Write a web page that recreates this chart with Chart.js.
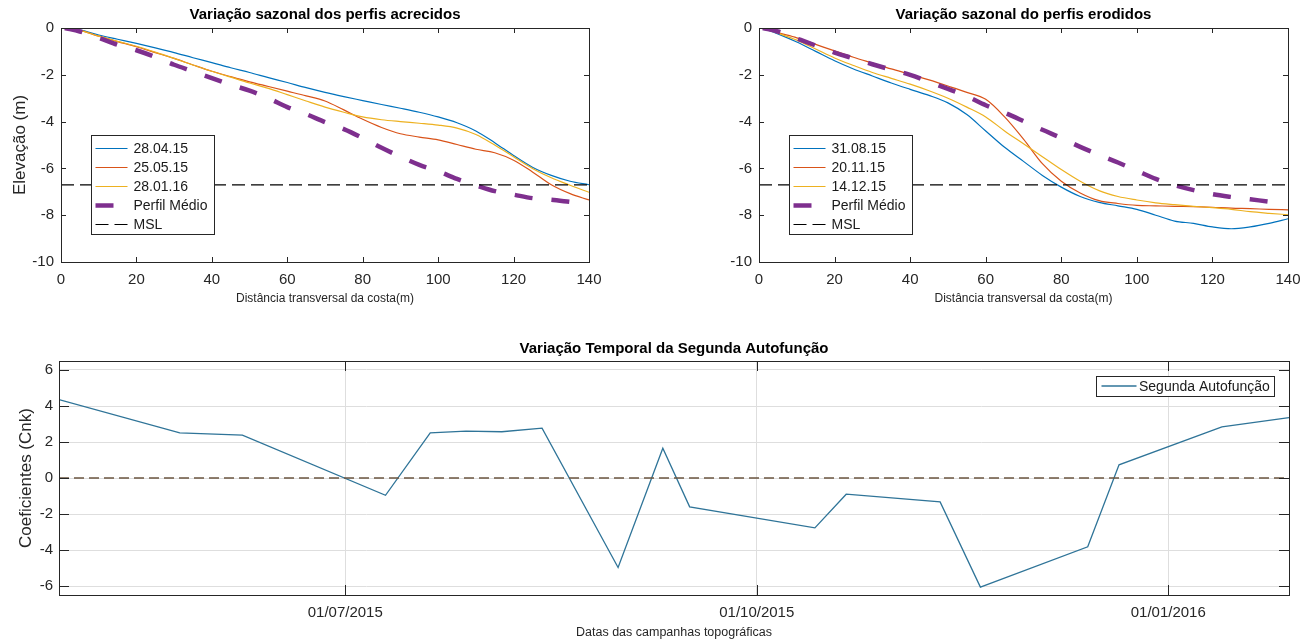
<!DOCTYPE html>
<html>
<head>
<meta charset="utf-8">
<script src="https://cdn.jsdelivr.net/npm/chart.js@4.4.1/dist/chart.umd.min.js"></script>
<style>
  html, body { margin: 0; padding: 0; background: #ffffff; }
  body { width: 1310px; height: 643px; position: relative; overflow: hidden; }
  canvas { position: absolute; }
</style>
</head>
<body>
<canvas id="acrecidos" width="620" height="310" style="left:0px;top:0px;width:620px;height:310px"></canvas>
<canvas id="erodidos" width="610" height="310" style="left:700px;top:0px;width:610px;height:310px"></canvas>
<canvas id="autofuncao" width="1310" height="323" style="left:0px;top:320px;width:1310px;height:323px"></canvas>
<script>
// ---- Perfis de praia: distância transversal (m) e elevação (m) ----
const distancia = [1, 5, 10, 15, 20, 25, 30, 35, 40, 45, 50, 55, 60, 65, 70, 75, 80, 85, 90, 95, 100, 105, 110, 115, 120, 125, 130, 135, 140];

// Perfis acrecidos
const acr280415 = [0, -0.08, -0.3, -0.48, -0.66, -0.85, -1.05, -1.27, -1.48, -1.7, -1.9, -2.12, -2.33, -2.55, -2.75, -2.93, -3.1, -3.27, -3.43, -3.6, -3.8, -4.05, -4.4, -4.9, -5.45, -5.95, -6.3, -6.55, -6.7];
const acr250515 = [0, -0.1, -0.35, -0.58, -0.8, -1.05, -1.3, -1.58, -1.85, -2.08, -2.3, -2.5, -2.7, -2.9, -3.12, -3.5, -3.9, -4.25, -4.52, -4.66, -4.78, -4.98, -5.18, -5.33, -5.65, -6.15, -6.7, -7.08, -7.35];
const acr280116 = [0, -0.1, -0.35, -0.57, -0.78, -1.03, -1.3, -1.58, -1.85, -2.1, -2.35, -2.58, -2.85, -3.12, -3.38, -3.6, -3.8, -3.92, -4.0, -4.07, -4.15, -4.28, -4.55, -5.0, -5.5, -6.0, -6.4, -6.72, -7.02];
const acrMedio  = [0, -0.15, -0.42, -0.72, -0.95, -1.24, -1.57, -1.85, -2.14, -2.42, -2.68, -3.0, -3.38, -3.68, -4.02, -4.32, -4.7, -5.12, -5.5, -5.85, -6.12, -6.45, -6.72, -6.97, -7.12, -7.27, -7.34, -7.43, null];

// Perfis erodidos
const ero310815 = [0, -0.25, -0.6, -1.0, -1.4, -1.75, -2.05, -2.35, -2.62, -2.88, -3.2, -3.7, -4.4, -5.1, -5.7, -6.3, -6.8, -7.2, -7.45, -7.6, -7.75, -8.0, -8.25, -8.35, -8.5, -8.58, -8.5, -8.35, -8.15];
const ero201115 = [0, -0.2, -0.42, -0.7, -0.98, -1.25, -1.5, -1.75, -1.98, -2.22, -2.48, -2.75, -3.05, -3.8, -4.75, -5.8, -6.55, -7.05, -7.38, -7.5, -7.58, -7.6, -7.62, -7.63, -7.66, -7.7, -7.72, -7.75, -7.77];
const ero141215 = [0, -0.22, -0.52, -0.9, -1.28, -1.6, -1.9, -2.15, -2.4, -2.68, -3.0, -3.38, -3.8, -4.4, -4.95, -5.5, -6.05, -6.55, -6.95, -7.2, -7.35, -7.47, -7.55, -7.62, -7.68, -7.75, -7.85, -7.92, -7.98];
const eroMedio  = [0, -0.15, -0.45, -0.75, -1.05, -1.3, -1.55, -1.78, -2.0, -2.3, -2.6, -2.92, -3.3, -3.62, -3.98, -4.35, -4.7, -5.08, -5.42, -5.75, -6.1, -6.45, -6.72, -6.93, -7.1, -7.22, -7.32, -7.42, null];

const nivelMSL = -6.7;
const xTicksPerfil = [0, 20, 40, 60, 80, 100, 120, 140];
const yTicksPerfil = [-10, -8, -6, -4, -2, 0];

// ---- Segunda autofunção: datas das campanhas e coeficientes ----
const datasCampanhas = ['2015-04-28', '2015-05-25', '2015-06-08', '2015-07-10', '2015-07-20', '2015-07-28', '2015-08-05', '2015-08-14', '2015-08-31', '2015-09-10', '2015-09-16', '2015-10-14', '2015-10-21', '2015-11-11', '2015-11-20', '2015-12-14', '2015-12-21', '2016-01-13', '2016-01-28'];
const segundaAutofuncao = [4.35, 2.51, 2.38, -0.96, 2.51, 2.6, 2.57, 2.77, -4.97, 1.65, -1.6, -2.77, -0.9, -1.33, -6.06, -3.82, 0.73, 2.84, 3.36];
const linhaZero = 0;
const datasTicks = ['2015-07-01', '2015-10-01', '2016-01-01'];
const yTicksCoef = [-6, -4, -2, 0, 2, 4, 6];

// ---- helpers ----
const FONTE = '"Liberation Sans", Arial, Helvetica, sans-serif';
Chart.defaults.font.family = FONTE;
Chart.defaults.color = '#262626';

const dia = s => Date.UTC(+s.slice(0, 4), +s.slice(5, 7) - 1, +s.slice(8, 10)) / 86400000;
const fmtData = v => {
  const d = new Date(Math.round(v) * 86400000);
  const p = n => String(n).padStart(2, '0');
  return p(d.getUTCDate()) + '/' + p(d.getUTCMonth() + 1) + '/' + d.getUTCFullYear();
};
const pontos = (xs, ys) => xs.map((x, i) => ({ x: x, y: ys[i] }));
const fixarTicks = valores => scale => { scale.ticks = valores.map(v => ({ value: v })); };

// Box around the plot area with inward tick marks on all four sides
const caixaEixos = {
  id: 'caixaEixos',
  afterDatasetsDraw(chart, args, o) {
    const { ctx, chartArea: a, scales: { x, y } } = chart;
    const L = o.tickLen;
    ctx.save();
    ctx.strokeStyle = '#262626';
    ctx.lineWidth = 1;
    ctx.beginPath();
    x.ticks.forEach(t => {
      const px = Math.round(x.getPixelForValue(t.value)) + 0.5;
      ctx.moveTo(px, a.bottom); ctx.lineTo(px, a.bottom - L);
      ctx.moveTo(px, a.top); ctx.lineTo(px, a.top + L);
    });
    y.ticks.forEach(t => {
      const py = Math.round(y.getPixelForValue(t.value)) + 0.5;
      ctx.moveTo(a.left, py); ctx.lineTo(a.left + L, py);
      ctx.moveTo(a.right, py); ctx.lineTo(a.right - L, py);
    });
    ctx.stroke();
    ctx.strokeRect(Math.round(a.left) + 0.5, Math.round(a.top) + 0.5,
                   Math.round(a.right - a.left), Math.round(a.bottom - a.top));
    ctx.restore();
  }
};

// Boxed legend drawn inside the plot area
const legendaCaixa = {
  id: 'legendaCaixa',
  afterDraw(chart, args, o) {
    if (!o || !o.display) return;
    const { ctx, chartArea: a } = chart;
    const sets = chart.data.datasets.filter(d => !d.semLegenda);
    const left = Math.round(a.left + o.dx), top = Math.round(a.top + o.dy);
    const h = Math.round(o.padTop + o.rowHeight * (sets.length - 1) + o.padBottom);
    ctx.save();
    ctx.fillStyle = '#ffffff';
    ctx.fillRect(left, top, o.width, h);
    ctx.strokeStyle = '#262626';
    ctx.lineWidth = 1;
    ctx.strokeRect(left + 0.5, top + 0.5, o.width, h);
    ctx.font = '14px ' + FONTE;
    ctx.textBaseline = 'middle';
    sets.forEach((d, i) => {
      const cy = top + o.padTop + i * o.rowHeight;
      ctx.save();
      ctx.strokeStyle = d.borderColor;
      ctx.lineWidth = d.borderWidth;
      ctx.lineCap = 'butt';
      ctx.setLineDash(d.borderDash || []);
      ctx.beginPath();
      ctx.moveTo(left + o.sampleStart, cy);
      ctx.lineTo(left + o.sampleStart + o.sampleLen, cy);
      ctx.stroke();
      ctx.restore();
      ctx.fillStyle = '#1a1a1a';
      ctx.fillText(d.label, left + o.textStart, cy + 1);
    });
    ctx.restore();
  }
};

function graficoPerfil(id, titulo, rotulos, series, medio, tituloY, padDireita, larguraY) {
  const cores = ['#0072BD', '#D95319', '#EDB120'];
  const datasets = series.map((s, i) => ({
    label: rotulos[i],
    data: pontos(distancia, s),
    borderColor: cores[i],
    borderWidth: 1.2,
    cubicInterpolationMode: 'monotone',
    pointRadius: 0,
    order: 5 - i
  }));
  datasets.push({
    label: 'Perfil Médio',
    data: pontos(distancia, medio),
    borderColor: '#7E2F8E',
    borderWidth: 4.5,
    borderDash: [18, 19],
    borderCapStyle: 'butt',
    cubicInterpolationMode: 'monotone',
    pointRadius: 0,
    order: 2
  });
  datasets.push({
    label: 'MSL',
    data: [{ x: xTicksPerfil[0], y: nivelMSL }, { x: xTicksPerfil[xTicksPerfil.length - 1], y: nivelMSL }],
    borderColor: '#000000',
    borderWidth: 1.2,
    borderDash: [13, 6],
    pointRadius: 0,
    order: 1
  });

  return new Chart(document.getElementById(id), {
    type: 'line',
    data: { datasets },
    options: {
      responsive: false,
      animation: false,
      events: [],
      layout: { padding: { left: 0, top: 0, right: padDireita, bottom: 0 } },
      scales: {
        x: {
          type: 'linear',
          min: xTicksPerfil[0],
          max: xTicksPerfil[xTicksPerfil.length - 1],
          afterBuildTicks: fixarTicks(xTicksPerfil),
          afterFit: s => { s.height = 48; },
          grid: { display: false, drawTicks: false },
          border: { display: false },
          ticks: { padding: 9, font: { size: 15 }, color: '#262626' },
          title: { display: true, text: 'Distância transversal da costa(m)', font: { size: 12 }, color: '#262626', padding: { top: 0, bottom: 4 } }
        },
        y: {
          type: 'linear',
          min: yTicksPerfil[0],
          max: yTicksPerfil[yTicksPerfil.length - 1],
          afterBuildTicks: fixarTicks(yTicksPerfil),
          afterFit: s => { s.width = larguraY; },
          grid: { display: false, drawTicks: false },
          border: { display: false },
          ticks: { padding: 7, font: { size: 15 }, color: '#262626' },
          title: { display: !!tituloY, text: tituloY || '', font: { size: 17 }, color: '#262626', padding: { top: 10, bottom: 0 } }
        }
      },
      plugins: {
        legend: { display: false },
        tooltip: { enabled: false },
        title: {
          display: true,
          text: titulo,
          fullSize: false,
          color: '#000000',
          font: { size: 15, weight: 'bold' },
          padding: { top: 6, bottom: 4 }
        },
        caixaEixos: { tickLen: 5 },
        legendaCaixa: { display: true, dx: 30, dy: 107, width: 123, padTop: 13.5, rowHeight: 19, padBottom: 9.5, sampleStart: 4.5, sampleLen: 32, textStart: 42.5 }
      }
    },
    plugins: [caixaEixos, legendaCaixa]
  });
}

graficoPerfil('acrecidos', 'Variação sazonal dos perfis acrecidos',
  ['28.04.15', '25.05.15', '28.01.16'], [acr280415, acr250515, acr280116], acrMedio,
  'Elevação (m)', 31, 61);

graficoPerfil('erodidos', 'Variação sazonal do perfis erodidos',
  ['31.08.15', '20.11.15', '14.12.15'], [ero310815, ero201115, ero141215], eroMedio,
  null, 22, 59);

// ---- Variação temporal da segunda autofunção ----
const diasCampanhas = datasCampanhas.map(dia);
const diaInicio = diasCampanhas[0];
const diaFim = diasCampanhas[diasCampanhas.length - 1];

new Chart(document.getElementById('autofuncao'), {
  type: 'line',
  data: {
    datasets: [
      {
        label: 'Segunda Autofunção',
        data: pontos(diasCampanhas, segundaAutofuncao),
        borderColor: '#2f7498',
        borderWidth: 1.3,
        tension: 0,
        pointRadius: 0,
        order: 2
      },
      {
        label: 'zero',
        semLegenda: true,
        data: [{ x: diaInicio, y: linhaZero }, { x: diaFim, y: linhaZero }],
        borderColor: '#6b5640',
        borderWidth: 1.3,
        borderDash: [10, 5],
        pointRadius: 0,
        order: 1
      }
    ]
  },
  options: {
    responsive: false,
    animation: false,
    events: [],
    layout: { padding: { left: 0, top: 0, right: 21, bottom: 0 } },
    scales: {
      x: {
        type: 'linear',
        min: diaInicio,
        max: diaFim,
        afterBuildTicks: fixarTicks(datasTicks.map(dia)),
        afterFit: s => { s.height = 48; },
        grid: { display: true, color: '#dedede', lineWidth: 1, drawTicks: false },
        border: { display: false },
        ticks: { padding: 9, font: { size: 15 }, color: '#262626', callback: v => fmtData(v) },
        title: { display: true, text: 'Datas das campanhas topográficas', font: { size: 12.5 }, color: '#262626', padding: { top: 0, bottom: 2.5 } }
      },
      y: {
        type: 'linear',
        min: -6.5,
        max: 6.5,
        afterBuildTicks: fixarTicks(yTicksCoef),
        afterFit: s => { s.width = 59; },
        grid: { display: true, color: '#dedede', lineWidth: 1, drawTicks: false },
        border: { display: false },
        ticks: { padding: 6, font: { size: 15 }, color: '#262626' },
        title: { display: true, text: 'Coeficientes (Cnk)', font: { size: 17 }, color: '#262626', padding: { top: 16.5, bottom: 0 } }
      }
    },
    plugins: {
      legend: { display: false },
      tooltip: { enabled: false },
      title: {
        display: true,
        text: 'Variação Temporal da Segunda Autofunção',
        fullSize: false,
        color: '#000000',
        font: { size: 15, weight: 'bold' },
        padding: { top: 20, bottom: 3 }
      },
      caixaEixos: { tickLen: 10 },
      legendaCaixa: { display: true, dx: 1037, dy: 15, width: 178, padTop: 10, rowHeight: 19, padBottom: 10, sampleStart: 5.5, sampleLen: 35, textStart: 43 }
    }
  },
  plugins: [caixaEixos, legendaCaixa]
});
</script>
</body>
</html>
